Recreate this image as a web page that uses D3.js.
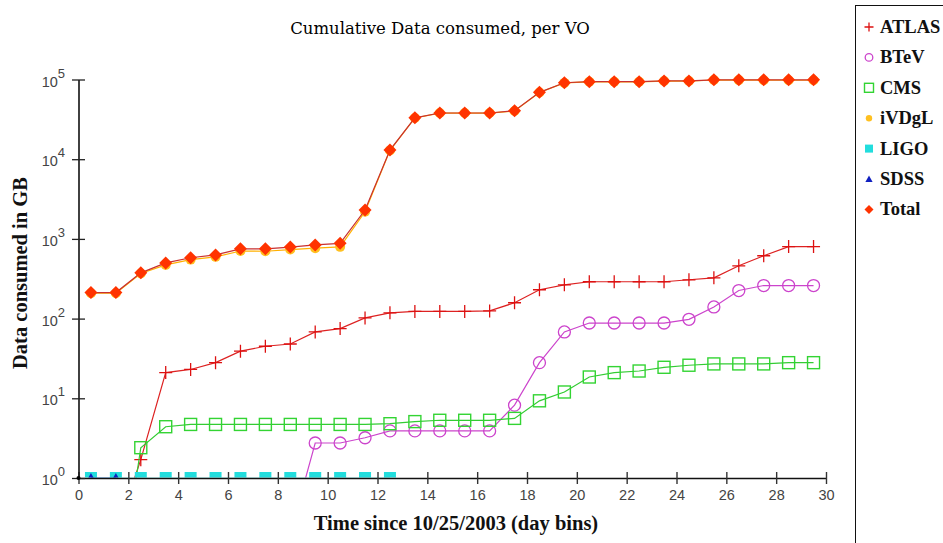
<!DOCTYPE html>
<html>
<head>
<meta charset="utf-8">
<script src="https://cdn.jsdelivr.net/npm/d3@7"></script>
<style>
  body { margin: 0; background: #fff; }
  svg { display: block; }
</style>
</head>
<body>
<script>
// day bins (centre of each bin)
var days = [0.5, 1.5, 2.5, 3.5, 4.5, 5.5, 6.5, 7.5, 8.5, 9.5,
            10.5, 11.5, 12.5, 13.5, 14.5, 15.5, 16.5, 17.5, 18.5, 19.5,
            20.5, 21.5, 22.5, 23.5, 24.5, 25.5, 26.5, 27.5, 28.5, 29.5]

// cumulative GB per VO (values below 1 fall under the axis floor)
var atlas = [0.2, 0.2, 1.7, 21, 23, 28, 39, 45, 48, 68,
             75, 102, 118, 123, 123, 123, 125, 158, 230, 265,
             290, 290, 290, 290, 307, 325, 460, 615, 800, 800]
var btev = [0.2, 0.2, 0.2, 0.2, 0.2, 0.2, 0.2, 0.2, 0.2, 2.75,
            2.75, 3.2, 3.9, 3.9, 3.9, 3.9, 3.9, 8.2, 28, 68,
            88, 88, 88, 88, 98, 140, 225, 260, 260, 260]
var cms = [0.02, 0.02, 2.4, 4.4, 4.7, 4.7, 4.7, 4.7, 4.7, 4.7,
           4.7, 4.7, 4.8, 5.1, 5.3, 5.3, 5.3, 5.6, 9.3, 12,
           18.5, 21, 22, 24.5, 26, 27, 27, 27, 28, 28]
var ivdgl = [208, 208, 368, 472, 550, 595, 705, 700, 735, 765,
             795, 2190, 12900, 32900, 37900, 37900, 37900, 40300, 68700, 90700,
             93600, 93600, 93600, 95600, 95600, 98500, 98300, 98100, 97900, 97900]
var ligo = [1, 1, 1, 1, 1, 1, 1, 1, 1, 1, 1, 1, 1]
var sdss = [1, 1]
var total = [212, 212, 375, 500, 580, 630, 750, 750, 790, 840,
             880, 2300, 13000, 33000, 38000, 38000, 38000, 40500, 69000, 91000,
             94000, 94000, 94000, 96000, 96000, 99000, 99000, 99000, 99000, 99000]

var xTicks = [0, 2, 4, 6, 8, 10, 12, 14, 16, 18, 20, 22, 24, 26, 28, 30]
var yMajors = [1, 10, 100, 1000, 10000, 100000]

var series = [
  {name: "ATLAS", values: atlas, color: "#dd1111", line: "#dd2222", mark: "plus"},
  {name: "BTeV", values: btev, color: "#cc44cc", line: "#cc44cc", mark: "circle"},
  {name: "CMS", values: cms, color: "#33d433", line: "#33cc33", mark: "square"},
  {name: "iVDgL", values: ivdgl, color: "#ffc020", line: "#ffb000", mark: "dot"},
  {name: "LIGO", values: ligo, color: "#22dddd", line: "#22dddd", mark: "fillsquare"},
  {name: "SDSS", values: sdss, color: "#1020c0", line: "#1020c0", mark: "triangle"},
  {name: "Total", values: total, color: "#ff3300", line: "#c83030", mark: "diamond"}
]

var width = 943, height = 543

var x = d3.scaleLinear().domain([0, 30]).range([78.5, 826])
var y = d3.scaleLog().domain([1, 1e5]).range([478, 79.5])

var svg = d3.select("body")
            .append("svg")
            .attr("width", width)
            .attr("height", height)

svg.append("clipPath")
   .attr("id", "plot")
   .append("rect")
   .attr("x", x(0))
   .attr("y", 0)
   .attr("width", x(30) - x(0) + 10)
   .attr("height", y(1) - 0.5)

// title and axis labels
svg.append("text")
   .attr("x", 440)
   .attr("y", 34)
   .attr("text-anchor", "middle")
   .attr("font-family", "DejaVu Serif")
   .attr("font-size", 16.5)
   .attr("fill", "#000")
   .text("Cumulative Data consumed, per VO")

svg.append("text")
   .attr("x", 456)
   .attr("y", 530)
   .attr("text-anchor", "middle")
   .attr("font-family", "Liberation Serif")
   .attr("font-weight", "bold")
   .attr("font-size", 20.5)
   .attr("fill", "#111")
   .text("Time since 10/25/2003 (day bins)")

svg.append("text")
   .attr("transform", "translate(27,273) rotate(-90)")
   .attr("text-anchor", "middle")
   .attr("font-family", "Liberation Serif")
   .attr("font-weight", "bold")
   .attr("font-size", 20.5)
   .attr("fill", "#111")
   .text("Data consumed in GB")

// markers
function drawMark (g, kind, color, s) {
  if (kind === "plus") {
    g.append("path").attr("d", "M" + (-s) + ",0H" + s + "M0," + (-s) + "V" + s)
     .attr("stroke", color).attr("stroke-width", 1.3).attr("fill", "none")
  } else if (kind === "circle") {
    g.append("circle").attr("r", s).attr("fill", "none")
     .attr("stroke", color).attr("stroke-width", 1.3)
  } else if (kind === "square") {
    g.append("rect").attr("x", -s).attr("y", -s).attr("width", 2 * s).attr("height", 2 * s)
     .attr("fill", "none").attr("stroke", color).attr("stroke-width", 1.4)
  } else if (kind === "dot") {
    g.append("circle").attr("r", s).attr("fill", color)
  } else if (kind === "fillsquare") {
    g.append("rect").attr("x", -s).attr("y", -s).attr("width", 2 * s).attr("height", 2 * s)
     .attr("fill", color)
  } else if (kind === "triangle") {
    g.append("path").attr("d", "M0," + (-s) + "L" + s + "," + (s * 0.8) + "L" + (-s) + "," + (s * 0.8) + "Z")
     .attr("fill", color)
  } else if (kind === "diamond") {
    g.append("path").attr("d", "M0," + (-s) + "L" + s + ",0L0," + s + "L" + (-s) + ",0Z")
     .attr("fill", color)
  }
}

var plotSize = {plus: 6.5, circle: 6, square: 6, dot: 5, fillsquare: 6, triangle: 5, diamond: 6.5}

var line = d3.line()
             .x((d, i) => x(days[i]))
             .y(d => y(d))

var plotG = svg.append("g").attr("clip-path", "url(#plot)")

series.forEach(function (s) {
  var g = plotG.append("g").attr("class", "series")
  g.append("path")
   .attr("d", line(s.values))
   .attr("fill", "none")
   .attr("stroke", s.line)
   .attr("stroke-width", 1.2)
  g.selectAll(".pt")
   .data(s.values)
   .enter()
   .append("g")
   .attr("class", "pt")
   .attr("transform", (d, i) => "translate(" + x(days[i]) + "," + y(d) + ")")
   .each(function () { drawMark(d3.select(this), s.mark, s.color, plotSize[s.mark]) })
})

// x axis
var xAxis = svg.append("g")
               .attr("transform", "translate(0," + y(1) + ")")
               .call(d3.axisBottom(x).tickValues(xTicks).tickSize(6).tickSizeOuter(0))
xAxis.select(".domain").attr("stroke", "#111").attr("stroke-width", 1.6)
xAxis.selectAll(".tick line").attr("y1", -6).attr("y2", 6).attr("stroke", "#333").attr("stroke-width", 1.4)
xAxis.selectAll(".tick text")
     .attr("y", 12)
     .attr("font-family", "Liberation Sans")
     .attr("font-size", 14.5)
     .attr("fill", "#444")

// y axis, log ticks crossing the axis line
var yAxis = svg.append("g")
               .attr("transform", "translate(" + x(0) + ",0)")
               .call(d3.axisLeft(y).ticks(5).tickFormat("").tickSize(4).tickSizeOuter(0))
yAxis.select(".domain").attr("stroke", "#111").attr("stroke-width", 1.6)
yAxis.selectAll(".tick line")
     .attr("x1", d => yMajors.indexOf(d) >= 0 ? -6.5 : -4)
     .attr("x2", d => yMajors.indexOf(d) >= 0 ? 6.5 : 4)
     .attr("stroke", "#222")
     .attr("stroke-width", 1.3)

var yLab = svg.append("g")
              .selectAll("text")
              .data(yMajors)
              .enter()
              .append("text")
              .attr("x", 65)
              .attr("y", d => y(d) + 7)
              .attr("text-anchor", "end")
              .attr("font-family", "Liberation Sans")
              .attr("font-size", 14.5)
              .attr("fill", "#444")
yLab.append("tspan").text("10")
yLab.append("tspan")
    .attr("dy", -9)
    .attr("font-size", 13)
    .text(d => Math.round(Math.log10(d)))

svg.append("circle")
   .attr("cx", x(0))
   .attr("cy", y(1))
   .attr("r", 2)
   .attr("fill", "#000")

// legend
svg.append("rect")
   .attr("x", 855.5)
   .attr("y", 5.5)
   .attr("width", 120)
   .attr("height", 600)
   .attr("fill", "none")
   .attr("stroke", "#111")
   .attr("stroke-width", 1)

var legendSize = {plus: 4.5, circle: 3.8, square: 4.5, dot: 3.2, fillsquare: 4, triangle: 3.6, diamond: 4.5}

var leg = svg.selectAll(".legend")
             .data(series)
             .enter()
             .append("g")
             .attr("class", "legend")
             .attr("transform", (d, i) => "translate(869," + (27 + i * 30.4) + ")")

leg.each(function (d) { drawMark(d3.select(this), d.mark, d.color, legendSize[d.mark]) })

leg.append("text")
   .attr("x", 11)
   .attr("y", 6)
   .attr("font-family", "Liberation Serif")
   .attr("font-weight", "bold")
   .attr("font-size", 18.5)
   .attr("fill", "#111")
   .text(d => d.name)
</script>
</body>
</html>
